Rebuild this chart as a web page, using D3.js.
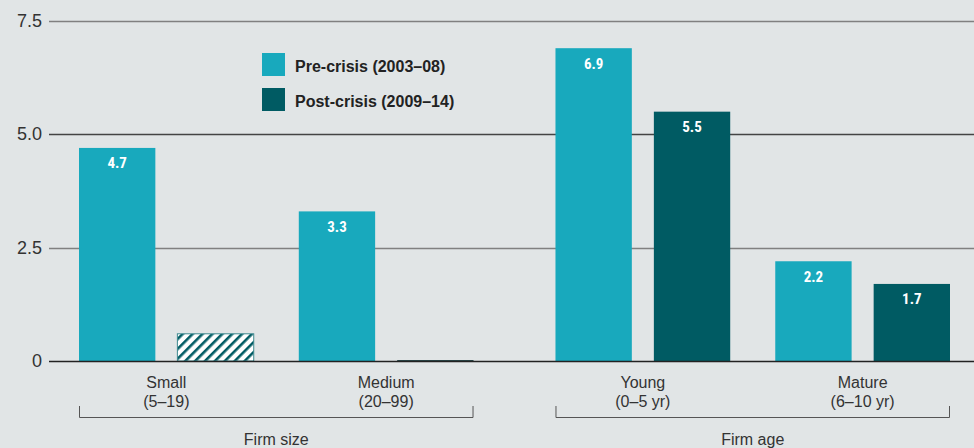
<!DOCTYPE html>
<html>
<head>
<meta charset="utf-8">
<script src="https://cdn.jsdelivr.net/npm/d3@7"></script>
<style>
    html, body { margin: 0; padding: 0; background: #e1e5e6; }
    svg { display: block; }
</style>
</head>
<body>
<svg id="chart" width="974" height="448"></svg>
<script>
// 数据
const sections = ['Firm size', 'Firm age']
const categories = [
    { key: 'Small', sub: '(5–19)', section: 'Firm size' },
    { key: 'Medium', sub: '(20–99)', section: 'Firm size' },
    { key: 'Young', sub: '(0–5 yr)', section: 'Firm age' },
    { key: 'Mature', sub: '(6–10 yr)', section: 'Firm age' },
]
const seriesNames = ['Pre-crisis (2003–08)', 'Post-crisis (2009–14)']
const preCrisis = [4.7, 3.3, 6.9, 2.2]
const postCrisis = [0.6, 0, 5.5, 1.7]
// 不显著的值用斜线表示
const hatched = [[false, false, false, false], [true, false, false, false]]
const yTicks = [0, 2.5, 5, 7.5]

const colors = ['#18a9bd', '#005b63']
const narrow = '"Liberation Sans Narrow", "Roboto Condensed", "Liberation Sans", Arial, sans-serif'
const sans = '"Liberation Sans", Arial, sans-serif'

const svg = d3.select('#chart')
const W = 974

const y = d3.scaleLinear().domain([0, 7.5]).range([361, 21])

const xSection = d3.scaleBand()
    .domain(sections)
    .range([79, 950])
    .paddingInner(0.172)

const xCat = d3.scaleBand()
    .domain([0, 1])
    .range([0, xSection.bandwidth()])
    .paddingInner(0.205)

const xSeries = d3.scaleBand()
    .domain([0, 1])
    .range([0, xCat.bandwidth()])
    .paddingInner(0.224)

function catX(i) {
    const c = categories[i]
    const idx = categories.filter(d => d.section === c.section).indexOf(c)
    return xSection(c.section) + xCat(idx)
}

// 斜线图案
const defs = svg.append('defs')
const pat = defs.append('pattern')
    .attr('id', 'hatch')
    .attr('patternUnits', 'userSpaceOnUse')
    .attr('width', 7)
    .attr('height', 7)
    .attr('patternTransform', 'rotate(45)')
pat.append('rect').attr('width', 7).attr('height', 7).attr('fill', '#ffffff')
pat.append('rect').attr('width', 2.6).attr('height', 7).attr('fill', colors[1])

// 刻度
const yAxis = d3.axisLeft(y)
    .tickValues(yTicks)
    .tickSize(0)
    .tickPadding(0)
    .tickFormat(d => (d === 0 ? '0' : d3.format('.1f')(d)))

const gy = svg.append('g').attr('transform', 'translate(42,0)').call(yAxis)
gy.select('.domain').remove()
gy.selectAll('text')
    .attr('font-family', sans)
    .attr('font-size', 18)
    .attr('fill', '#333')
    .attr('dy', '0.3em')

// 网格线
svg.append('g')
    .selectAll('line')
    .data(yTicks.filter(d => d !== 0))
    .join('line')
    .attr('x1', 49)
    .attr('x2', W)
    .attr('y1', d => Math.round(y(d)) + 0.5)
    .attr('y2', d => Math.round(y(d)) + 0.5)
    .attr('stroke', d => (d === 5 ? '#444' : '#808080'))
    .attr('stroke-width', 1.3)

// 柱子
const series = [preCrisis, postCrisis]
series.forEach((vals, s) => {
    const g = svg.append('g')
    vals.forEach((v, i) => {
        const x0 = catX(i) + xSeries(s)
        const bw = xSeries.bandwidth()
        if (v === 0) {
            g.append('rect')
                .attr('x', x0)
                .attr('y', y(0) - 1)
                .attr('width', bw)
                .attr('height', 1)
                .attr('fill', '#2a4a4c')
            return
        }
        g.append('rect')
            .attr('x', x0)
            .attr('y', y(v))
            .attr('width', bw)
            .attr('height', y(0) - y(v))
            .attr('fill', hatched[s][i] ? 'url(#hatch)' : colors[s])
            .attr('stroke', hatched[s][i] ? '#3f8a90' : 'none')
            .attr('stroke-width', 1)
        if (!hatched[s][i]) {
            g.append('text')
                .attr('x', x0 + bw / 2)
                .attr('y', y(v) + 20.5)
                .attr('text-anchor', 'middle')
                .attr('font-family', narrow)
                .attr('font-weight', 'bold')
                .attr('font-size', 15)
                .attr('fill', '#fff')
                .text(v.toFixed(1))
        }
    })
})

// 基线
svg.append('line')
    .attr('x1', 49)
    .attr('x2', W)
    .attr('y1', y(0) + 0.5)
    .attr('y2', y(0) + 0.5)
    .attr('stroke', '#222')
    .attr('stroke-width', 1.5)

// 分类标签
categories.forEach((c, i) => {
    const cx = catX(i) + xCat.bandwidth() / 2
    const t = svg.append('text')
        .attr('text-anchor', 'middle')
        .attr('font-family', sans)
        .attr('font-size', 16)
        .attr('fill', '#333')
    t.append('tspan').attr('x', cx).attr('y', 388).text(c.key)
    t.append('tspan').attr('x', cx).attr('y', 406.5).text(c.sub)
})

// 分组括号
sections.forEach((s) => {
    const x0 = xSection(s)
    const x1 = x0 + xSection.bandwidth()
    svg.append('path')
        .attr('d', `M${x0 + 0.5},406V417.5H${x1 - 0.5}V406`)
        .attr('fill', 'none')
        .attr('stroke', '#555')
        .attr('stroke-width', 1)
    svg.append('text')
        .attr('x', (x0 + x1) / 2)
        .attr('y', 445)
        .attr('text-anchor', 'middle')
        .attr('font-family', sans)
        .attr('font-size', 16)
        .attr('fill', '#333')
        .text(s)
})

// 图例
const legend = svg.append('g').attr('transform', 'translate(262,53)')
seriesNames.forEach((name, s) => {
    const row = legend.append('g').attr('transform', `translate(0,${s * 35})`)
    row.append('rect')
        .attr('width', 23)
        .attr('height', 23)
        .attr('fill', colors[s])
    row.append('text')
        .attr('x', 33)
        .attr('y', 19)
        .attr('font-family', sans)
        .attr('font-weight', 'bold')
        .attr('font-size', 16)
        .attr('fill', '#222')
        .text(name)
})
</script>
</body>
</html>
